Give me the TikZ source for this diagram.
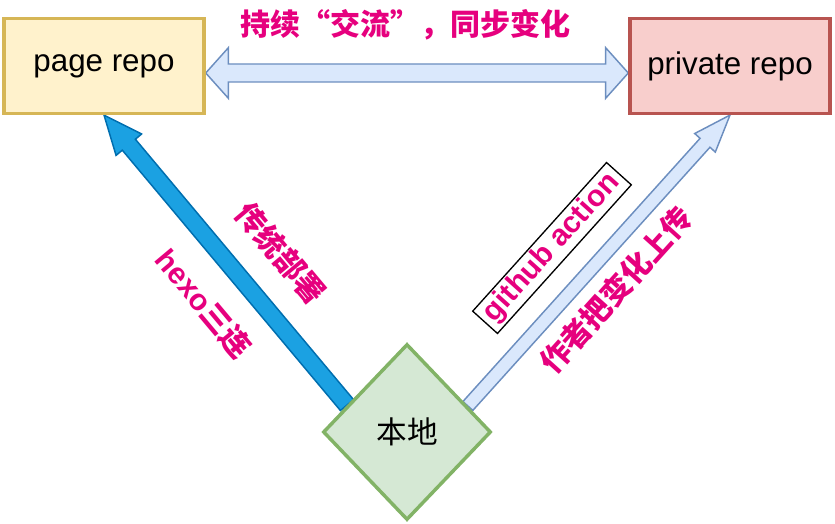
\documentclass[tikz,border=0pt]{standalone}
\usepackage{fontspec}
\setmainfont{Liberation Sans}
\newfontfamily\cjk{Noto Sans CJK SC}
\usetikzlibrary{calc,shapes.geometric}
\definecolor{pagefill}{HTML}{FFF2CC}
\definecolor{pageline}{HTML}{D6B656}
\definecolor{privfill}{HTML}{F8CECC}
\definecolor{privline}{HTML}{B85450}
\definecolor{localfill}{HTML}{D5E8D4}
\definecolor{localline}{HTML}{82B366}
\definecolor{syncfill}{HTML}{DAE8FC}
\definecolor{syncline}{HTML}{6C8EBF}
\definecolor{deployfill}{HTML}{1BA1E2}
\definecolor{deployline}{HTML}{006EAF}
\definecolor{labelpink}{HTML}{E6007E}
\pgfdeclarelayer{back}
\pgfsetlayers{back,main}
\def\flexarrow[#1](#2)(#3)(#4:#5:#6){%
	\coordinate (fa head) at ($(#3)!#6!(#2)$);
	\draw[#1] ($(#2)!#4!90:(#3)$) -- ($(fa head)!#4!90:(#3)$) -- ($(fa head)!#5!90:(#3)$) -- (#3) -- ($(fa head)!#5!-90:(#3)$) -- ($(fa head)!#4!-90:(#3)$) -- ($(#2)!#4!-90:(#3)$) -- cycle;}
\def\flexdarrow[#1](#2)(#3)(#4:#5:#6){%
	\coordinate (fa head) at ($(#3)!#6!(#2)$);
	\coordinate (fa tail) at ($(#2)!#6!(#3)$);
	\draw[#1] ($(fa tail)!#4!90:(#3)$) -- ($(fa head)!#4!90:(#3)$) -- ($(fa head)!#5!90:(#3)$) -- (#3) -- ($(fa head)!#5!-90:(#3)$) -- ($(fa head)!#4!-90:(#3)$) -- ($(fa tail)!#4!-90:(#3)$) -- ($(fa tail)!#5!-90:(#3)$) -- (#2) -- ($(fa tail)!#5!90:(#3)$) -- cycle;}

\begin{document}
\begin{tikzpicture}[x=0.75pt, y=-0.75pt,
	repo/.style={rectangle, line width=2.6pt, minimum width=150pt, minimum height=71pt, font=\fontsize{23.5}{28}\selectfont},
	pinklabel/.style={text=labelpink, inner sep=0pt, font=\fontsize{22.5}{27}\selectfont\bfseries},
	actionbox/.style={draw=black, fill=white, line width=1pt, minimum width=150pt, minimum height=25pt}]
			%%%%% START %%%%%
			\useasboundingbox (0, 0) rectangle (835, 524);
			
			\node[repo, draw=pageline, fill=pagefill] (page) at (104, 66) {page repo};
			\node[repo, draw=privline, fill=privfill] (private) at (730, 66) {private repo};
			\node[diamond, draw=localline, fill=localfill, line width=2.6pt, minimum width=126pt, minimum height=132pt, inner sep=0pt, font=\fontsize{23}{28}\cjk] (local) at (407, 432) {本地};
			
			\coordinate (sync left) at ($(page.east)+(0, 7)$);
			\coordinate (sync right) at ($(private.west)+(0, 7)$);
			\coordinate (deploy tail) at ($(local.west)!0.3!(local.north)$);
			\coordinate (upload tail) at ($(local.north)!0.71!(local.east)$);
			
			\begin{pgfonlayer}{back}
			\flexdarrow[fill=syncfill, draw=syncline, line width=1.1pt](sync left)(sync right)(6.75pt:19pt:17pt)
			\flexarrow[fill=deployfill, draw=deployline, line width=1.1pt](deploy tail)(page.south)(6.4pt:12.5pt:29pt)
			\flexarrow[fill=syncfill, draw=syncline, line width=1.1pt](upload tail)(private.south)(5pt:10.4pt:28pt)
			\end{pgfonlayer}
			
			\node[pinklabel] (sync label) at (405, 25) {\cjk 持续“交流”，同步变化};
			\node[pinklabel, rotate=-50] (deploy label) at (281, 253) {\cjk 传统部署};
			\node[pinklabel, rotate=-50] (hexo label) at (204, 303) {hexo{\cjk 三连}};
			\node[pinklabel, actionbox, rotate=48] (action label) at (552, 248) {github action};
			\node[pinklabel, rotate=48] (upload label) at (616, 290) {\cjk 作者把变化上传};
			
			%%%%% END %%%%%
\end{tikzpicture}
\end{document}
